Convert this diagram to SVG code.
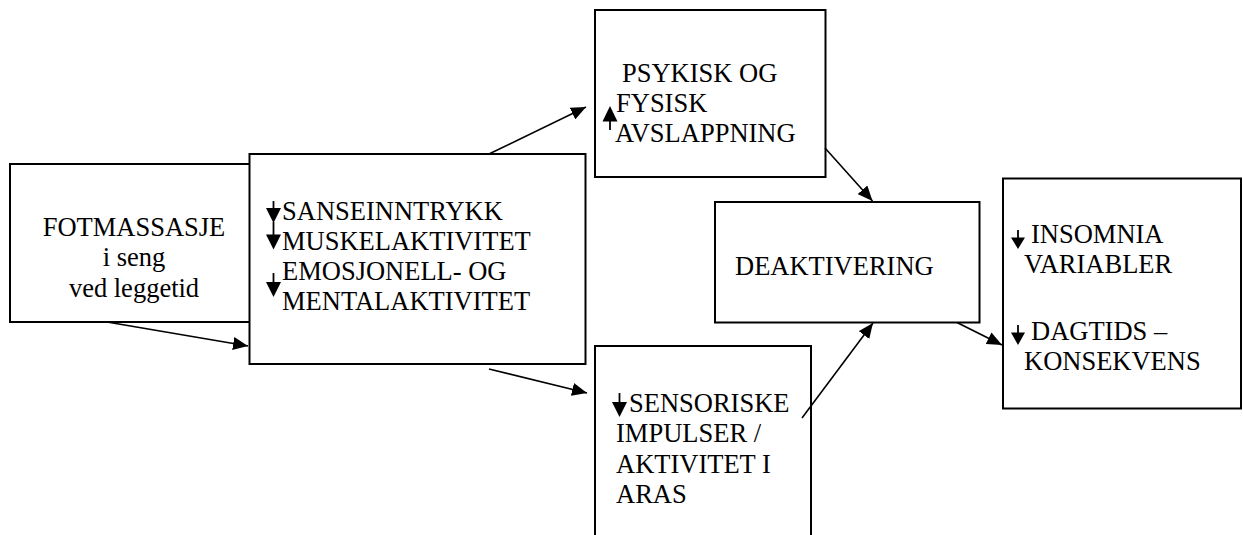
<svg xmlns="http://www.w3.org/2000/svg" width="1243" height="535" viewBox="0 0 1243 535">
<style>
.box{fill:#fff;stroke:#000;stroke-width:2}
.t{font-family:"Liberation Serif",serif;font-size:26.5px;fill:#000}
.m{text-anchor:middle}
.c{fill:none;stroke:#000;stroke-width:1.6}
.stem{stroke:#000;stroke-width:1.8}
.head{fill:#000}
</style>
<defs>
<marker id="ah" markerUnits="userSpaceOnUse" markerWidth="15" markerHeight="13" refX="15" refY="6.5" orient="auto">
<path d="M0,0 L15,6.5 L0,13 z" fill="#000"/>
</marker>
</defs>
<rect width="1243" height="535" fill="#fff"/>
<g id="n-fotmassasje">
<rect class="box" x="10" y="164" width="250" height="158"/>
<text class="t m" x="134" y="236">FOTMASSASJE</text>
<text class="t m" x="134" y="266">i seng</text>
<text class="t m" x="134" y="297">ved leggetid</text>
</g>
<g id="n-sanse">
<rect class="box" x="249.5" y="154" width="336" height="210"/>
<line class="stem" x1="273.5" y1="201" x2="273.5" y2="209"/>
<polygon class="head" points="266,208 281,208 273.5,223"/>
<line class="stem" x1="273.5" y1="222" x2="273.5" y2="236"/>
<polygon class="head" points="266,234.5 281,234.5 273.5,249.5"/>
<line class="stem" x1="273.5" y1="273" x2="273.5" y2="283"/>
<polygon class="head" points="266,282 281,282 273.5,297"/>
<text class="t" x="282" y="220">SANSEINNTRYKK</text>
<text class="t" x="282" y="250">MUSKELAKTIVITET</text>
<text class="t" x="282" y="280">EMOSJONELL- OG</text>
<text class="t" x="282" y="310">MENTALAKTIVITET</text>
</g>
<g id="n-psykisk">
<rect class="box" x="595" y="10" width="230.5" height="167"/>
<line class="stem" x1="610" y1="120" x2="610" y2="130"/>
<polygon class="head" points="610,106 617.5,121.5 602.5,121.5"/>
<text class="t" x="622" y="81.5">PSYKISK OG</text>
<text class="t" x="616" y="112">FYSISK</text>
<text class="t" x="615" y="141.5">AVSLAPPNING</text>
</g>
<g id="n-deaktivering">
<rect class="box" x="715" y="202" width="264.5" height="120.5"/>
<text class="t" x="735" y="275">DEAKTIVERING</text>
</g>
<g id="n-sensoriske">
<rect class="box" x="595" y="346" width="216" height="200"/>
<line class="stem" x1="619.5" y1="393" x2="619.5" y2="403"/>
<polygon class="head" points="612,402 627,402 619.5,417"/>
<text class="t" x="629" y="411.5">SENSORISKE</text>
<text class="t" x="616" y="442">IMPULSER /</text>
<text class="t" x="616" y="472.5">AKTIVITET I</text>
<text class="t" x="616" y="502.5">ARAS</text>
</g>
<g id="n-insomnia">
<rect class="box" x="1003" y="178.5" width="238" height="230"/>
<line class="stem" x1="1018" y1="230" x2="1018" y2="239"/>
<polygon class="head" points="1011,237.5 1025,237.5 1018,249"/>
<line class="stem" x1="1018" y1="325" x2="1018" y2="334"/>
<polygon class="head" points="1011,332.5 1025,332.5 1018,345"/>
<text class="t" x="1031" y="243">INSOMNIA</text>
<text class="t" x="1024" y="273">VARIABLER</text>
<text class="t" x="1031" y="340">DAGTIDS –</text>
<text class="t" x="1024" y="370">KONSEKVENS</text>
</g>
<g id="connectors">
<line class="c" x1="107" y1="322" x2="248" y2="346" marker-end="url(#ah)"/>
<line class="c" x1="490" y1="153.5" x2="586" y2="107" marker-end="url(#ah)"/>
<line class="c" x1="489" y1="369" x2="587" y2="393" marker-end="url(#ah)"/>
<line class="c" x1="825" y1="148" x2="872.5" y2="201" marker-end="url(#ah)"/>
<line class="c" x1="802" y1="418" x2="873" y2="323" marker-end="url(#ah)"/>
<line class="c" x1="957" y1="322.5" x2="1002" y2="345" marker-end="url(#ah)"/>
</g>
</svg>
